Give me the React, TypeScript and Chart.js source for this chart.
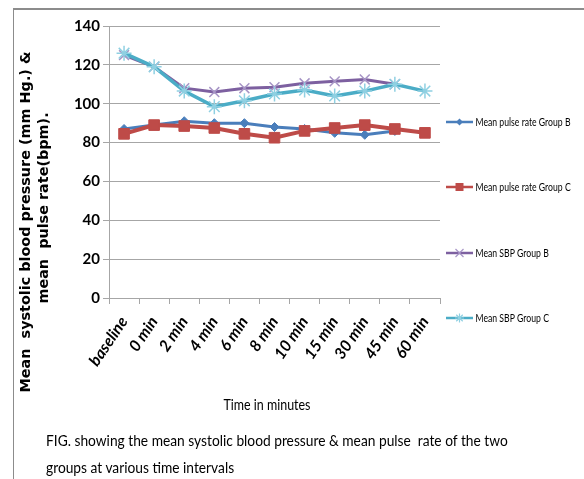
import React, { useEffect, useRef } from "react";
import { Chart, registerables } from "chart.js";

Chart.register(...registerables);

const categories = ["baseline", "0 min", "2 min", "4 min", "6 min", "8 min", "10 min", "15 min", "30 min", "45 min", "60 min"];
const pulseB = [87, 89, 91, 90, 90, 88, 87, 85, 84, 86, null];
const pulseC = [84.5, 89, 88.5, 87.5, 84.5, 82.5, 86, 87.5, 89, 87, 85];
const sbpB = [125, 119, 108, 106, 108, 108.5, 110.5, 111.5, 112.5, 110, null];
const sbpC = [126, 119, 106.5, 98.5, 101.5, 105, 107, 104, 106.5, 110, 106.5];
const seriesLabels = ["Mean pulse rate Group B", "Mean pulse rate Group C", "Mean SBP Group B", "Mean SBP Group C"];
const yMin = 0;
const yMax = 140;
const yStep = 20;
const yTitleLines = ["Mean  systolic blood pressure (mm Hg.) &", "mean  pulse rate(bpm)."];
const xTitle = "Time in minutes";
const captionLines = ["FIG. showing the mean systolic blood pressure & mean pulse  rate of the two", "groups at various time intervals"];

const CAL = "Lato, 'Open Sans', sans-serif";

const styles = [
  { line: "#4a7ebb", point: "#4a7ebb", pointStyle: "rectRot", radius: 4.5, width: 3, pbw: 1, order: 4 },
  { line: "#be4b48", point: "#be4b48", pointStyle: "rect", radius: 7.5, width: 4, pbw: 1, order: 3 },
  { line: "#7d60a0", point: "#a795c6", pointStyle: "crossRot", radius: 7, width: 3, pbw: 1.5, order: 2 },
  { line: "#4bacc6", point: "#8fd0e2", pointStyle: "star", radius: 7.5, width: 3.5, pbw: 1.5, order: 1 },
];

const legendY = [122, 187, 253, 318];

function drawMarker(ctx: CanvasRenderingContext2D, kind: string, x: number, y: number, color: string) {
  ctx.save();
  ctx.fillStyle = color;
  ctx.strokeStyle = color;
  ctx.lineWidth = 1.2;
  ctx.beginPath();
  if (kind === "rectRot") {
    const r = 3.5;
    ctx.moveTo(x - r, y);
    ctx.lineTo(x, y - r);
    ctx.lineTo(x + r, y);
    ctx.lineTo(x, y + r);
    ctx.closePath();
    ctx.fill();
  } else if (kind === "rect") {
    ctx.rect(x - 4, y - 4, 8, 8);
    ctx.fill();
  } else if (kind === "crossRot") {
    const r = 4;
    ctx.moveTo(x - r, y - r);
    ctx.lineTo(x + r, y + r);
    ctx.moveTo(x - r, y + r);
    ctx.lineTo(x + r, y - r);
    ctx.stroke();
  } else {
    const r = 4.5;
    ctx.moveTo(x - r, y);
    ctx.lineTo(x + r, y);
    ctx.moveTo(x, y - r);
    ctx.lineTo(x, y + r);
    const d = r * 0.72;
    ctx.moveTo(x - d, y - d);
    ctx.lineTo(x + d, y + d);
    ctx.moveTo(x - d, y + d);
    ctx.lineTo(x + d, y - d);
    ctx.stroke();
  }
  ctx.restore();
}

function squeezedText(ctx: CanvasRenderingContext2D, text: string, x: number, y: number, sx: number, align: CanvasTextAlign) {
  ctx.save();
  ctx.translate(x, y);
  ctx.scale(sx, 1);
  ctx.textAlign = align;
  ctx.fillText(text, 0, 0);
  ctx.restore();
}

function captionScale(): number {
  try {
    const c = document.createElement("canvas").getContext("2d");
    if (!c) return 0.865;
    c.font = `16px ${CAL}`;
    const w = c.measureText(captionLines[0]).width;
    return w > 0 ? 462 / w : 0.865;
  } catch (e) {
    return 0.865;
  }
}

const annotPlugin = {
  id: "annot",
  afterDraw(chart: any) {
    const ctx = chart.ctx as CanvasRenderingContext2D;
    ctx.save();
    ctx.fillStyle = "#000";
    ctx.textBaseline = "middle";
    // Y title
    ctx.font = "bold 14.4px 'DejaVu Sans', Verdana, sans-serif";
    ctx.save();
    ctx.translate(26.5, 222);
    ctx.rotate(-Math.PI / 2);
    ctx.textAlign = "center";
    ctx.fillText(yTitleLines[0], 0, 0);
    ctx.restore();
    ctx.save();
    ctx.translate(44.5, 208);
    ctx.rotate(-Math.PI / 2);
    ctx.textAlign = "center";
    ctx.fillText(yTitleLines[1], 0, 0);
    ctx.restore();
    // X title
    ctx.font = `15px ${CAL}`;
    const xw = ctx.measureText(xTitle).width;
    squeezedText(ctx, xTitle, 267, 405, 87 / xw, "center");
    // Legend
    ctx.font = `12px ${CAL}`;
    const lw = ctx.measureText(seriesLabels[0]).width;
    const sx = 95 / lw;
    chart.data.datasets.forEach((ds: any, i: number) => {
      const y = legendY[i];
      const st = styles[i];
      ctx.strokeStyle = st.line;
      ctx.lineWidth = 2.5;
      ctx.beginPath();
      ctx.moveTo(446, y);
      ctx.lineTo(473, y);
      ctx.stroke();
      drawMarker(ctx, st.pointStyle, 459.5, y, st.point);
      ctx.fillStyle = "#000";
      squeezedText(ctx, ds.label, 475.5, y, sx, "left");
    });
    ctx.restore();
  },
};

export default function App() {
  const ref = useRef<HTMLCanvasElement>(null);
  const capScale = captionScale();
  useEffect(() => {
    const seriesData = [pulseB, pulseC, sbpB, sbpC];
    const chart = new Chart(ref.current as HTMLCanvasElement, {
      type: "line",
      data: {
        labels: categories,
        datasets: seriesData.map((d, i) => ({
          label: seriesLabels[i],
          data: d,
          borderColor: styles[i].line,
          backgroundColor: styles[i].point,
          pointBackgroundColor: styles[i].point,
          pointBorderColor: styles[i].point,
          pointStyle: styles[i].pointStyle as any,
          pointRadius: styles[i].radius,
          pointBorderWidth: styles[i].pbw,
          borderWidth: styles[i].width,
          tension: 0,
          spanGaps: false,
          order: styles[i].order,
        })),
      },
      options: {
        responsive: false,
        animation: false,
        events: [],
        layout: { padding: { left: 0, right: 144, top: 26, bottom: 0 } },
        plugins: { legend: { display: false }, tooltip: { enabled: false } },
        scales: {
          x: {
            type: "category",
            offset: true,
            grid: { offset: true, drawOnChartArea: false, drawTicks: true, tickLength: 6, color: "#a6a6a6" },
            border: { color: "#a6a6a6" },
            ticks: {
              autoSkip: false,
              minRotation: 56,
              maxRotation: 56,
              color: "#000",
              padding: 9,
              font: { family: CAL, size: 16, weight: "bold", style: "italic" },
            },
            afterFit: (s: any) => {
              s.height = 479 - 298;
            },
          },
          y: {
            min: yMin,
            max: yMax,
            ticks: { stepSize: yStep, color: "#000", padding: 3, font: { family: CAL, size: 15, weight: "bold" } },
            grid: { color: "#a6a6a6", tickLength: 6 },
            border: { color: "#a6a6a6" },
            afterFit: (s: any) => {
              s.width = 109;
            },
          },
        },
      },
      plugins: [annotPlugin],
    });
    return () => chart.destroy();
  }, []);
  return (
    <div style={{ position: "fixed", left: 0, top: 0, width: 584, height: 479, background: "#fff", overflow: "hidden" }}>
      <div
        style={{
          position: "absolute",
          left: 13,
          top: 8,
          width: 580,
          height: 480,
          borderTop: "2px solid #8c8c8c",
          borderLeft: "1px solid #8c8c8c",
        }}
      />
      <canvas ref={ref} width={584} height={479} style={{ position: "absolute", left: 0, top: 0, width: 584, height: 479 }} />
      <div
        style={{
          position: "absolute",
          left: 46,
          top: 426,
          font: `16px ${CAL}`,
          lineHeight: "27px",
          whiteSpace: "pre",
          color: "#000",
          transform: `scaleX(${capScale})`,
          transformOrigin: "0 0",
        }}
      >
        {captionLines.map((l, i) => (
          <div key={i}>{l}</div>
        ))}
      </div>
    </div>
  );
}
